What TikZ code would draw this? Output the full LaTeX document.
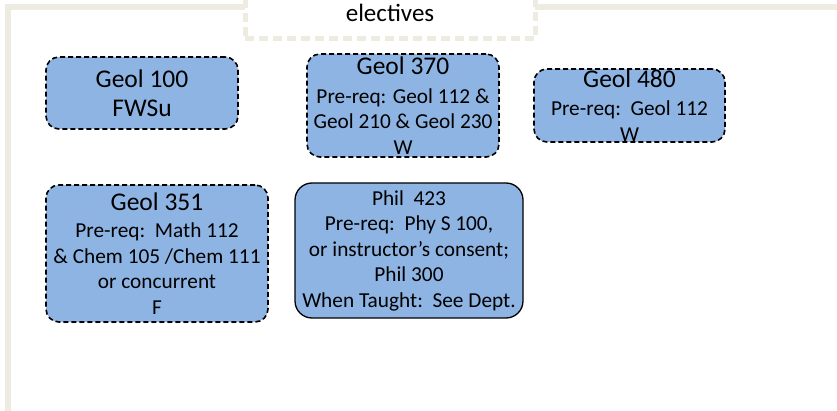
\documentclass[tikz,border=0pt]{standalone}
\usepackage{fontspec}
\setmainfont{Carlito}
\usetikzlibrary{positioning}

\definecolor{boxblue}{HTML}{8EB4E3}
\definecolor{framebeige}{HTML}{EEECE1}

\newcommand{\titlefont}{\fontsize{25.5}{29}\selectfont}
\newcommand{\notefont}{\fontsize{21.3}{25.5}\selectfont}

\tikzset{
  course/.style={draw, fill=boxblue, rounded corners=13pt, line width=1.6pt,
    dash pattern=on 5pt off 3pt, align=center, inner sep=0pt, font=\notefont},
  solidcourse/.style={course, solid, line width=1.3pt, rounded corners=17pt},
}

\begin{document}
\begin{tikzpicture}[x=1pt, y=-1pt]

\clip (0,0) rectangle (837,411);

% frame
\draw[framebeige, line width=6pt] (7.5,420) -- (7.5,7) -- (840,7);
\node[draw=framebeige, fill=white, line width=5pt, dash pattern=on 9pt off 5pt,
      minimum width=290pt, minimum height=52pt, inner sep=0pt,
      font=\fontsize{25}{29}\selectfont] (electives) at (390,13) {electives};

% top row
\node[course, font=\titlefont, minimum width=192pt, minimum height=72pt] (geol100) at (142,93)
  {Geol 100\\FWSu};
\node[course, minimum width=192pt, minimum height=103pt] (geol370) at (403,105.5)
  {{\titlefont Geol 370}\\[3pt]Pre-req: Geol 112 \&\\Geol 210 \& Geol 230\\W};
\node[course, minimum width=191pt, minimum height=73pt] (geol480) at (629.5,105.5)
  {{\titlefont Geol 480}\\[3pt]Pre-req:\ \ Geol 112\\W};

% second row
\node[course, minimum width=222pt, minimum height=137pt] (geol351) at (157,253.5)
  {{\titlefont Geol 351}\\[2pt]Pre-req:\ \ Math 112\\\& Chem 105 /Chem 111\\or concurrent\\F};
\node[solidcourse, minimum width=228pt, minimum height=135pt] (phil423) at (409,250.5)
  {Phil\ \ 423\\Pre-req:\ \ Phy S 100,\\or instructor’s consent;\\Phil 300\\When Taught:\ \ See Dept.};

\end{tikzpicture}
\end{document}
